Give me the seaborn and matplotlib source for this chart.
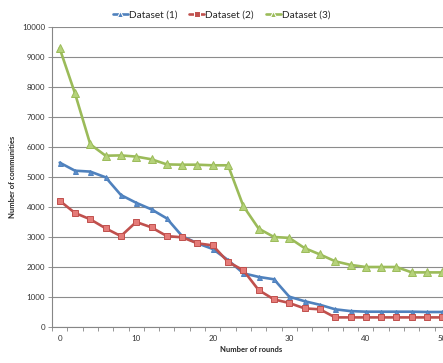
import seaborn as sns
import pandas as pd
import matplotlib
matplotlib.use("Agg")
import matplotlib.pyplot as plt
from matplotlib.ticker import MultipleLocator, FixedLocator

rounds = list(range(0, 51, 2))

dataset1 = [5480, 5210, 5180, 4990, 4400, 4140, 3920, 3620, 3030, 2790, 2600, 2230,
            1790, 1670, 1590, 1010, 860, 740, 590, 530, 510, 510, 510, 510, 500, 500]
dataset2 = [4210, 3800, 3590, 3290, 3030, 3500, 3320, 3030, 2990, 2790, 2720, 2170,
            1890, 1230, 920, 800, 620, 590, 320, 320, 320, 320, 320, 320, 320, 320]
dataset3 = [9290, 7790, 6090, 5710, 5720, 5680, 5590, 5420, 5410, 5410, 5390, 5390,
            4030, 3280, 3000, 2970, 2630, 2420, 2190, 2070, 2000, 2000, 2000, 1820, 1820, 1820]

names = ["Dataset (1)", "Dataset (2)", "Dataset (3)"]
colors = ["#4F81BD", "#C0504D", "#9BBB59"]
face = ["#5B8DCB", "#E57B78", "#B5D27A"]

rows = []
for name, vals in zip(names, [dataset1, dataset2, dataset3]):
    for r, v in zip(rounds, vals):
        rows.append({"Number of rounds": r, "Number of communities": v, "series": name})
df = pd.DataFrame(rows)

sns.set_style("white")
plt.rcParams["font.family"] = ["Lato", "DejaVu Sans"]

fig = plt.figure(figsize=(4.43, 3.63), dpi=100)
# x range -1..51 runs a little past the right edge, like the original crop
ax = fig.add_axes([52 / 443, 36 / 363, (450 - 52) / 443, 300 / 363])

ax = sns.lineplot(data=df, x="Number of rounds", y="Number of communities", hue="series",
                  style="series", markers=["^", "s", "^"], dashes=False,
                  palette=colors, linewidth=1.9, ax=ax, legend=True)

sizes = [3.6, 4.0, 5.6]
for line, c, fc, ms in zip(ax.get_lines()[:3], colors, face, sizes):
    line.set_markersize(ms)
    line.set_markerfacecolor(fc)
    line.set_markeredgecolor(c)
    line.set_markeredgewidth(0.7)

ax.set_xlim(-1, 51)
ax.set_ylim(0, 10000)
ax.yaxis.set_major_locator(MultipleLocator(1000))
ax.set_xticks([0, 10, 20, 30, 40, 50])
ax.xaxis.set_minor_locator(FixedLocator(list(range(-1, 52, 2))))
ax.tick_params(axis="x", which="major", length=0, labelsize=5.8, colors="#333333", pad=6)
ax.tick_params(axis="x", which="minor", length=3, width=0.6, color="#868686", direction="out")
ax.tick_params(axis="y", which="major", length=3, width=0.6, color="#868686", direction="out",
               labelsize=5.8, labelcolor="#333333", pad=2)
ax.tick_params(axis="x", which="both", bottom=True)
ax.tick_params(axis="y", left=True)

ax.grid(axis="y", color="#8C8C8C", linewidth=0.8)
ax.grid(axis="x", visible=False)
ax.set_axisbelow(True)
for s in ["top", "right"]:
    ax.spines[s].set_visible(False)
for s in ["left", "bottom"]:
    ax.spines[s].set_color("#868686")
    ax.spines[s].set_linewidth(0.8)

ax.set_xlabel("Number of rounds", fontsize=5.5, fontweight="bold", labelpad=3)
ax.set_ylabel("Number of communities", fontsize=5.5, fontweight="bold", labelpad=4)

handles, labels = ax.get_legend_handles_labels()
ax.legend(handles, labels, loc="center", bbox_to_anchor=(0.5, 348 / 363),
          bbox_transform=fig.transFigure, ncol=3, frameon=False, fontsize=7.2,
          handlelength=1.5, handletextpad=0.1, columnspacing=1.2, markerscale=0.8)

fig.savefig("out.png", dpi=100)
